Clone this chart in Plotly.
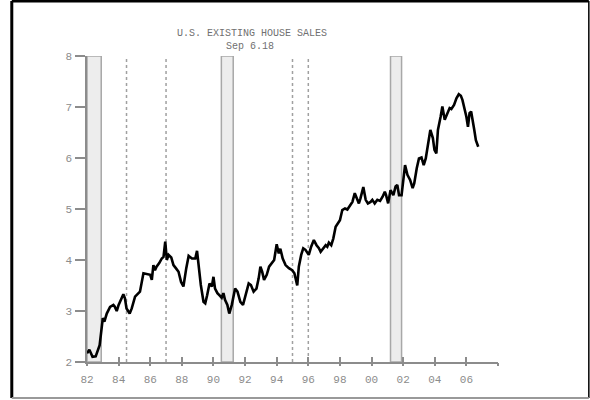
import plotly.graph_objects as go

# ---- data ----
years = [1982.00, 1982.15, 1982.35, 1982.55, 1982.80, 1982.90, 1983.00, 1983.10, 1983.25, 1983.46,
         1983.67, 1983.75, 1983.88, 1984.00, 1984.20, 1984.30, 1984.40, 1984.50, 1984.70, 1984.83,
         1985.04, 1985.25, 1985.35, 1985.57, 1985.78, 1986.00, 1986.10, 1986.20, 1986.30, 1986.40,
         1986.57, 1986.73, 1986.84, 1986.95, 1987.05, 1987.16, 1987.33, 1987.47, 1987.62, 1987.79,
         1987.95, 1988.10, 1988.28, 1988.43, 1988.64, 1988.85, 1988.96, 1989.07, 1989.20, 1989.37,
         1989.48, 1989.60, 1989.75, 1989.90, 1990.00, 1990.10, 1990.25, 1990.37, 1990.52, 1990.63,
         1990.73, 1990.88, 1991.00, 1991.16, 1991.37, 1991.52, 1991.70, 1991.87, 1992.00, 1992.23,
         1992.37, 1992.54, 1992.72, 1992.86, 1992.97, 1993.08, 1993.20, 1993.37, 1993.52, 1993.73,
         1993.84, 1994.00, 1994.13, 1994.23, 1994.38, 1994.56, 1994.77, 1994.98, 1995.12, 1995.30,
         1995.40, 1995.55, 1995.68, 1995.82, 1996.03, 1996.18, 1996.35, 1996.52, 1996.67, 1996.78,
         1996.95, 1997.10, 1997.20, 1997.30, 1997.45, 1997.58, 1997.73, 1997.83, 1998.00, 1998.15,
         1998.32, 1998.47, 1998.64, 1998.79, 1998.94, 1999.06, 1999.20, 1999.30, 1999.48, 1999.63,
         1999.77, 1999.94, 2000.05, 2000.20, 2000.37, 2000.54, 2000.70, 2000.84, 2000.92, 2001.05,
         2001.20, 2001.38, 2001.52, 2001.63, 2001.74, 2001.90, 2002.02, 2002.12, 2002.27, 2002.44,
         2002.60, 2002.70, 2002.86, 2003.00, 2003.16, 2003.30, 2003.43, 2003.60, 2003.72, 2003.88,
         2003.98, 2004.10, 2004.20, 2004.37, 2004.48, 2004.63, 2004.80, 2004.94, 2005.05, 2005.22,
         2005.37, 2005.52, 2005.65, 2005.75, 2005.90, 2006.00, 2006.10, 2006.20, 2006.30, 2006.40,
         2006.50, 2006.60, 2006.75]
sales = [2.17, 2.24, 2.10, 2.11, 2.33, 2.66, 2.86, 2.79, 2.95, 3.08,
         3.12, 3.09, 3.00, 3.12, 3.28, 3.33, 3.25, 3.05, 2.95, 3.05,
         3.28, 3.35, 3.38, 3.74, 3.72, 3.71, 3.61, 3.90, 3.80, 3.87,
         3.94, 4.03, 4.06, 4.36, 4.00, 4.10, 4.05, 3.90, 3.84, 3.77,
         3.57, 3.48, 3.84, 4.08, 4.03, 4.03, 4.18, 3.84, 3.51, 3.18,
         3.15, 3.31, 3.54, 3.48, 3.67, 3.44, 3.35, 3.31, 3.26, 3.35,
         3.22, 3.12, 2.95, 3.12, 3.44, 3.38, 3.18, 3.12, 3.28, 3.54,
         3.51, 3.38, 3.44, 3.64, 3.87, 3.77, 3.61, 3.71, 3.87, 3.97,
         4.00, 4.31, 4.13, 4.22, 4.03, 3.90, 3.84, 3.80, 3.74, 3.50,
         3.87, 4.10, 4.23, 4.20, 4.10, 4.26, 4.39, 4.29, 4.23, 4.16,
         4.23, 4.29, 4.26, 4.34, 4.29, 4.42, 4.65, 4.69, 4.78, 4.98,
         5.01, 4.99, 5.08, 5.14, 5.31, 5.21, 5.11, 5.21, 5.43, 5.18,
         5.11, 5.14, 5.18, 5.11, 5.18, 5.16, 5.24, 5.34, 5.27, 5.11,
         5.37, 5.27, 5.44, 5.47, 5.27, 5.27, 5.63, 5.86, 5.67, 5.57,
         5.41, 5.50, 5.80, 5.99, 6.01, 5.86, 5.99, 6.32, 6.55, 6.39,
         6.16, 6.09, 6.55, 6.81, 7.01, 6.75, 6.88, 6.98, 6.96, 7.04,
         7.17, 7.25, 7.22, 7.14, 6.94, 6.81, 6.61, 6.88, 6.91, 6.75,
         6.55, 6.35, 6.22]

recession_start = [1982.0, 1990.5, 2001.2]
recession_end = [1982.9, 1991.25, 2001.9]
marker_lines = [1984.5, 1987.0, 1995.0, 1996.0]

x_tick_vals = [1982, 1984, 1986, 1988, 1990, 1992, 1994, 1996, 1998, 2000, 2002, 2004, 2006, 2008]
x_tick_text = ["82", "84", "86", "88", "90", "92", "94", "96", "98", "00", "02", "04", "06", ""]
y_tick_vals = [2, 3, 4, 5, 6, 7, 8]

title_line1 = "U.S. EXISTING HOUSE SALES"
title_line2 = "Sep 6.18"

MONO = "Liberation Mono, Courier New, monospace"
GRAY = "#8c8c8c"

fig = go.Figure()
fig.add_trace(go.Scatter(x=years, y=sales, mode="lines",
                         line=dict(color="#000000", width=2.6),
                         hoverinfo="skip", showlegend=False))

shapes = []
for s, e in zip(recession_start, recession_end):
    shapes.append(dict(type="rect", xref="x", yref="y", x0=s, x1=e, y0=2, y1=8,
                       fillcolor="#ededed", line=dict(color="#a8a8a8", width=1.5),
                       layer="below"))
for v in marker_lines:
    shapes.append(dict(type="line", xref="x", yref="y", x0=v, x1=v, y0=2, y1=8,
                       line=dict(color="#a0a0a0", width=1.5, dash="dot"), layer="below"))
# picture frame
shapes += [
    dict(type="line", xref="paper", yref="paper", x0=-0.183, x1=-0.183, y0=-0.118, y1=1.180,
         line=dict(color="#000", width=3)),
    dict(type="line", xref="paper", yref="paper", x0=-0.183, x1=1.221, y0=1.180, y1=1.180,
         line=dict(color="#000", width=3)),
    dict(type="line", xref="paper", yref="paper", x0=1.221, x1=1.221, y0=-0.118, y1=1.180,
         line=dict(color="#000", width=1.5)),
    dict(type="line", xref="paper", yref="paper", x0=-0.183, x1=1.221, y0=-0.118, y1=-0.118,
         line=dict(color="#999", width=2)),
]

fig.update_layout(
    width=590, height=400,
    margin=dict(l=87, r=92, t=56, b=38),
    paper_bgcolor="white", plot_bgcolor="white",
    shapes=shapes,
    showlegend=False,
    xaxis=dict(range=[1982, 2008], tickvals=x_tick_vals, ticktext=x_tick_text,
               ticks="inside", ticklen=5, tickwidth=1.5, tickcolor=GRAY,
               showline=True, linecolor=GRAY, linewidth=1.5,
               showgrid=False, zeroline=False, ticklabelstandoff=6,
               tickfont=dict(family=MONO, size=11, color=GRAY)),
    xaxis2=dict(range=[1982, 2008], tickvals=x_tick_vals, overlaying="x", anchor="y",
                side="bottom", ticks="outside", ticklen=3, tickwidth=1.5, tickcolor=GRAY,
                showticklabels=False, showline=False, showgrid=False, zeroline=False),
    yaxis=dict(range=[2, 8], tickvals=y_tick_vals,
               ticks="outside", ticklen=10, tickwidth=1.5, tickcolor=GRAY,
               showline=True, linecolor=GRAY, linewidth=1.5,
               showgrid=False, zeroline=False, ticklabelstandoff=1,
               tickfont=dict(family=MONO, size=11, color=GRAY)),
    annotations=[
        dict(text=title_line1, xref="paper", yref="paper", x=0.402, y=1.075,
             showarrow=False, font=dict(family=MONO, size=10, color="#707070"),
             xanchor="center", yanchor="middle"),
        dict(text=title_line2, xref="paper", yref="paper", x=0.397, y=1.030,
             showarrow=False, font=dict(family=MONO, size=10, color="#707070"),
             xanchor="center", yanchor="middle"),
    ],
)
fig.add_trace(go.Scatter(x=[None], y=[None], xaxis="x2", showlegend=False, hoverinfo="skip"))

fig.write_html("out.html")
